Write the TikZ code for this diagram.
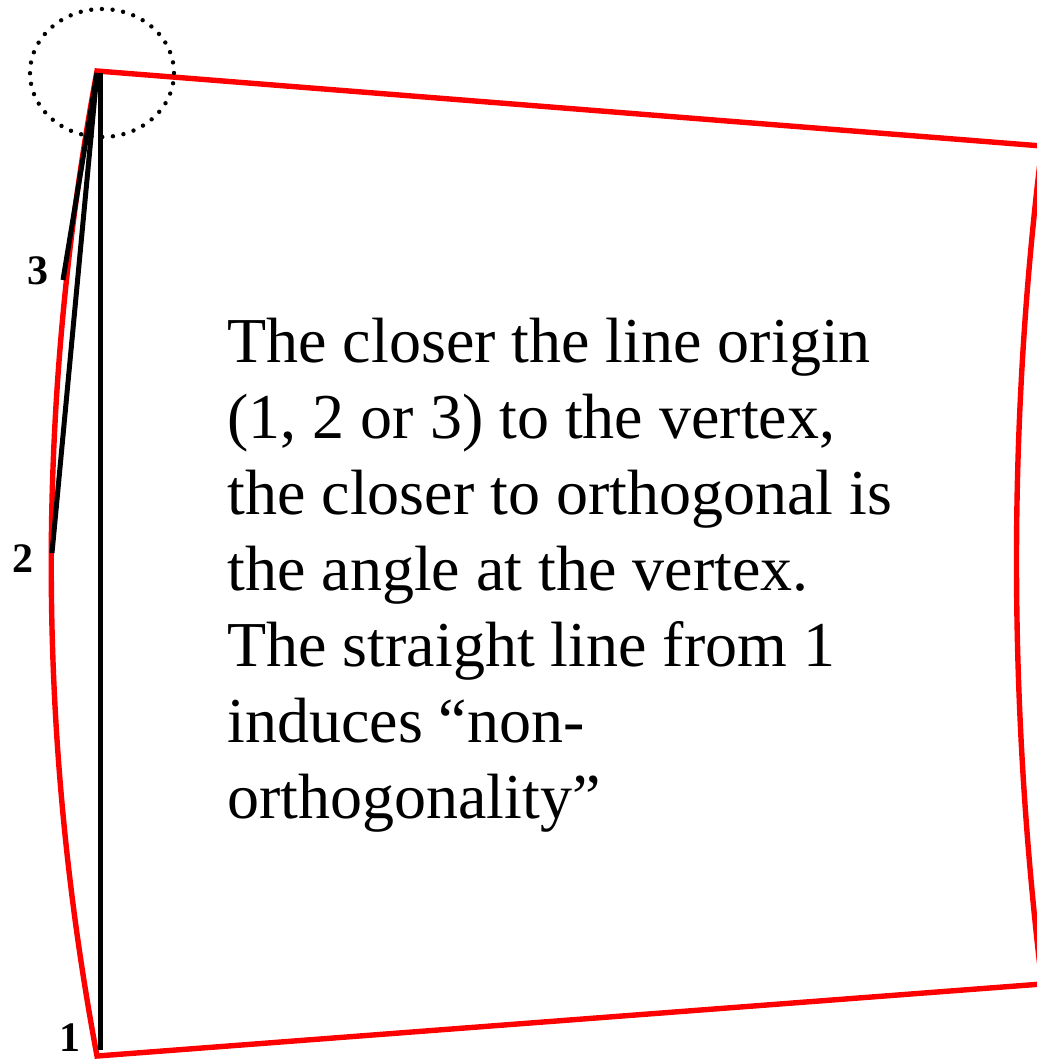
\documentclass[tikz,border=0pt]{standalone}
\usepackage{fontspec}
\setmainfont{Liberation Serif}
\usepackage{tikz}
\usetikzlibrary{positioning}

\begin{document}
\begin{tikzpicture}[x=0.5pt, y=-0.5pt,
  edge/.style={draw=red, line width=2.7pt, line join=miter},
  ray/.style={draw=black, line width=2.5pt},
  lbl/.style={font=\fontsize{21}{24}\selectfont\bfseries, inner sep=0pt},
  note/.style={font=\fontsize{32}{38}\selectfont, align=left,
               inner sep=0pt, anchor=north west},
  halo/.style={draw=black, line width=2.2pt, line cap=round,
               dash pattern=on 0pt off 5.35pt}
]
\useasboundingbox (0,0) rectangle (1037,1061);
\clip (0,0) rectangle (1037,1061);

% corners of the red cell
\coordinate (tl) at (97,71);
\coordinate (tr) at (1042,146);
\coordinate (br) at (1042,984);
\coordinate (bl) at (97,1056);

\draw[edge] (tl) -- (tr) .. controls (1008,420) and (1008,700) .. (br)
  -- (bl) .. controls (36,730) and (36,400) .. cycle;

% vertex and line origins
\coordinate (v)  at (97,73);
\coordinate (o1) at (100,1050);
\coordinate (o2) at (52,553);
\coordinate (o3) at (63,280);

\draw[ray] (o1) -- (o1 |- v);
\draw[ray] (o2) -- (v);
\draw[ray] (o3) -- (v);

\draw[halo] (102,73) ellipse [x radius=36pt, y radius=32pt];

\node[lbl] (n3) at (38,271)  {3};
\node[lbl] (n2) at (23,559)  {2};
\node[lbl] (n1) at (70,1038) {1};

\node[note] (txt) at (227,318) {The closer the line origin\\
(1, 2 or 3) to the vertex,\\
the closer to orthogonal is\\
the angle at the vertex.\\
The straight line from 1\\
induces “non-\\
orthogonality”};
\end{tikzpicture}
\end{document}
